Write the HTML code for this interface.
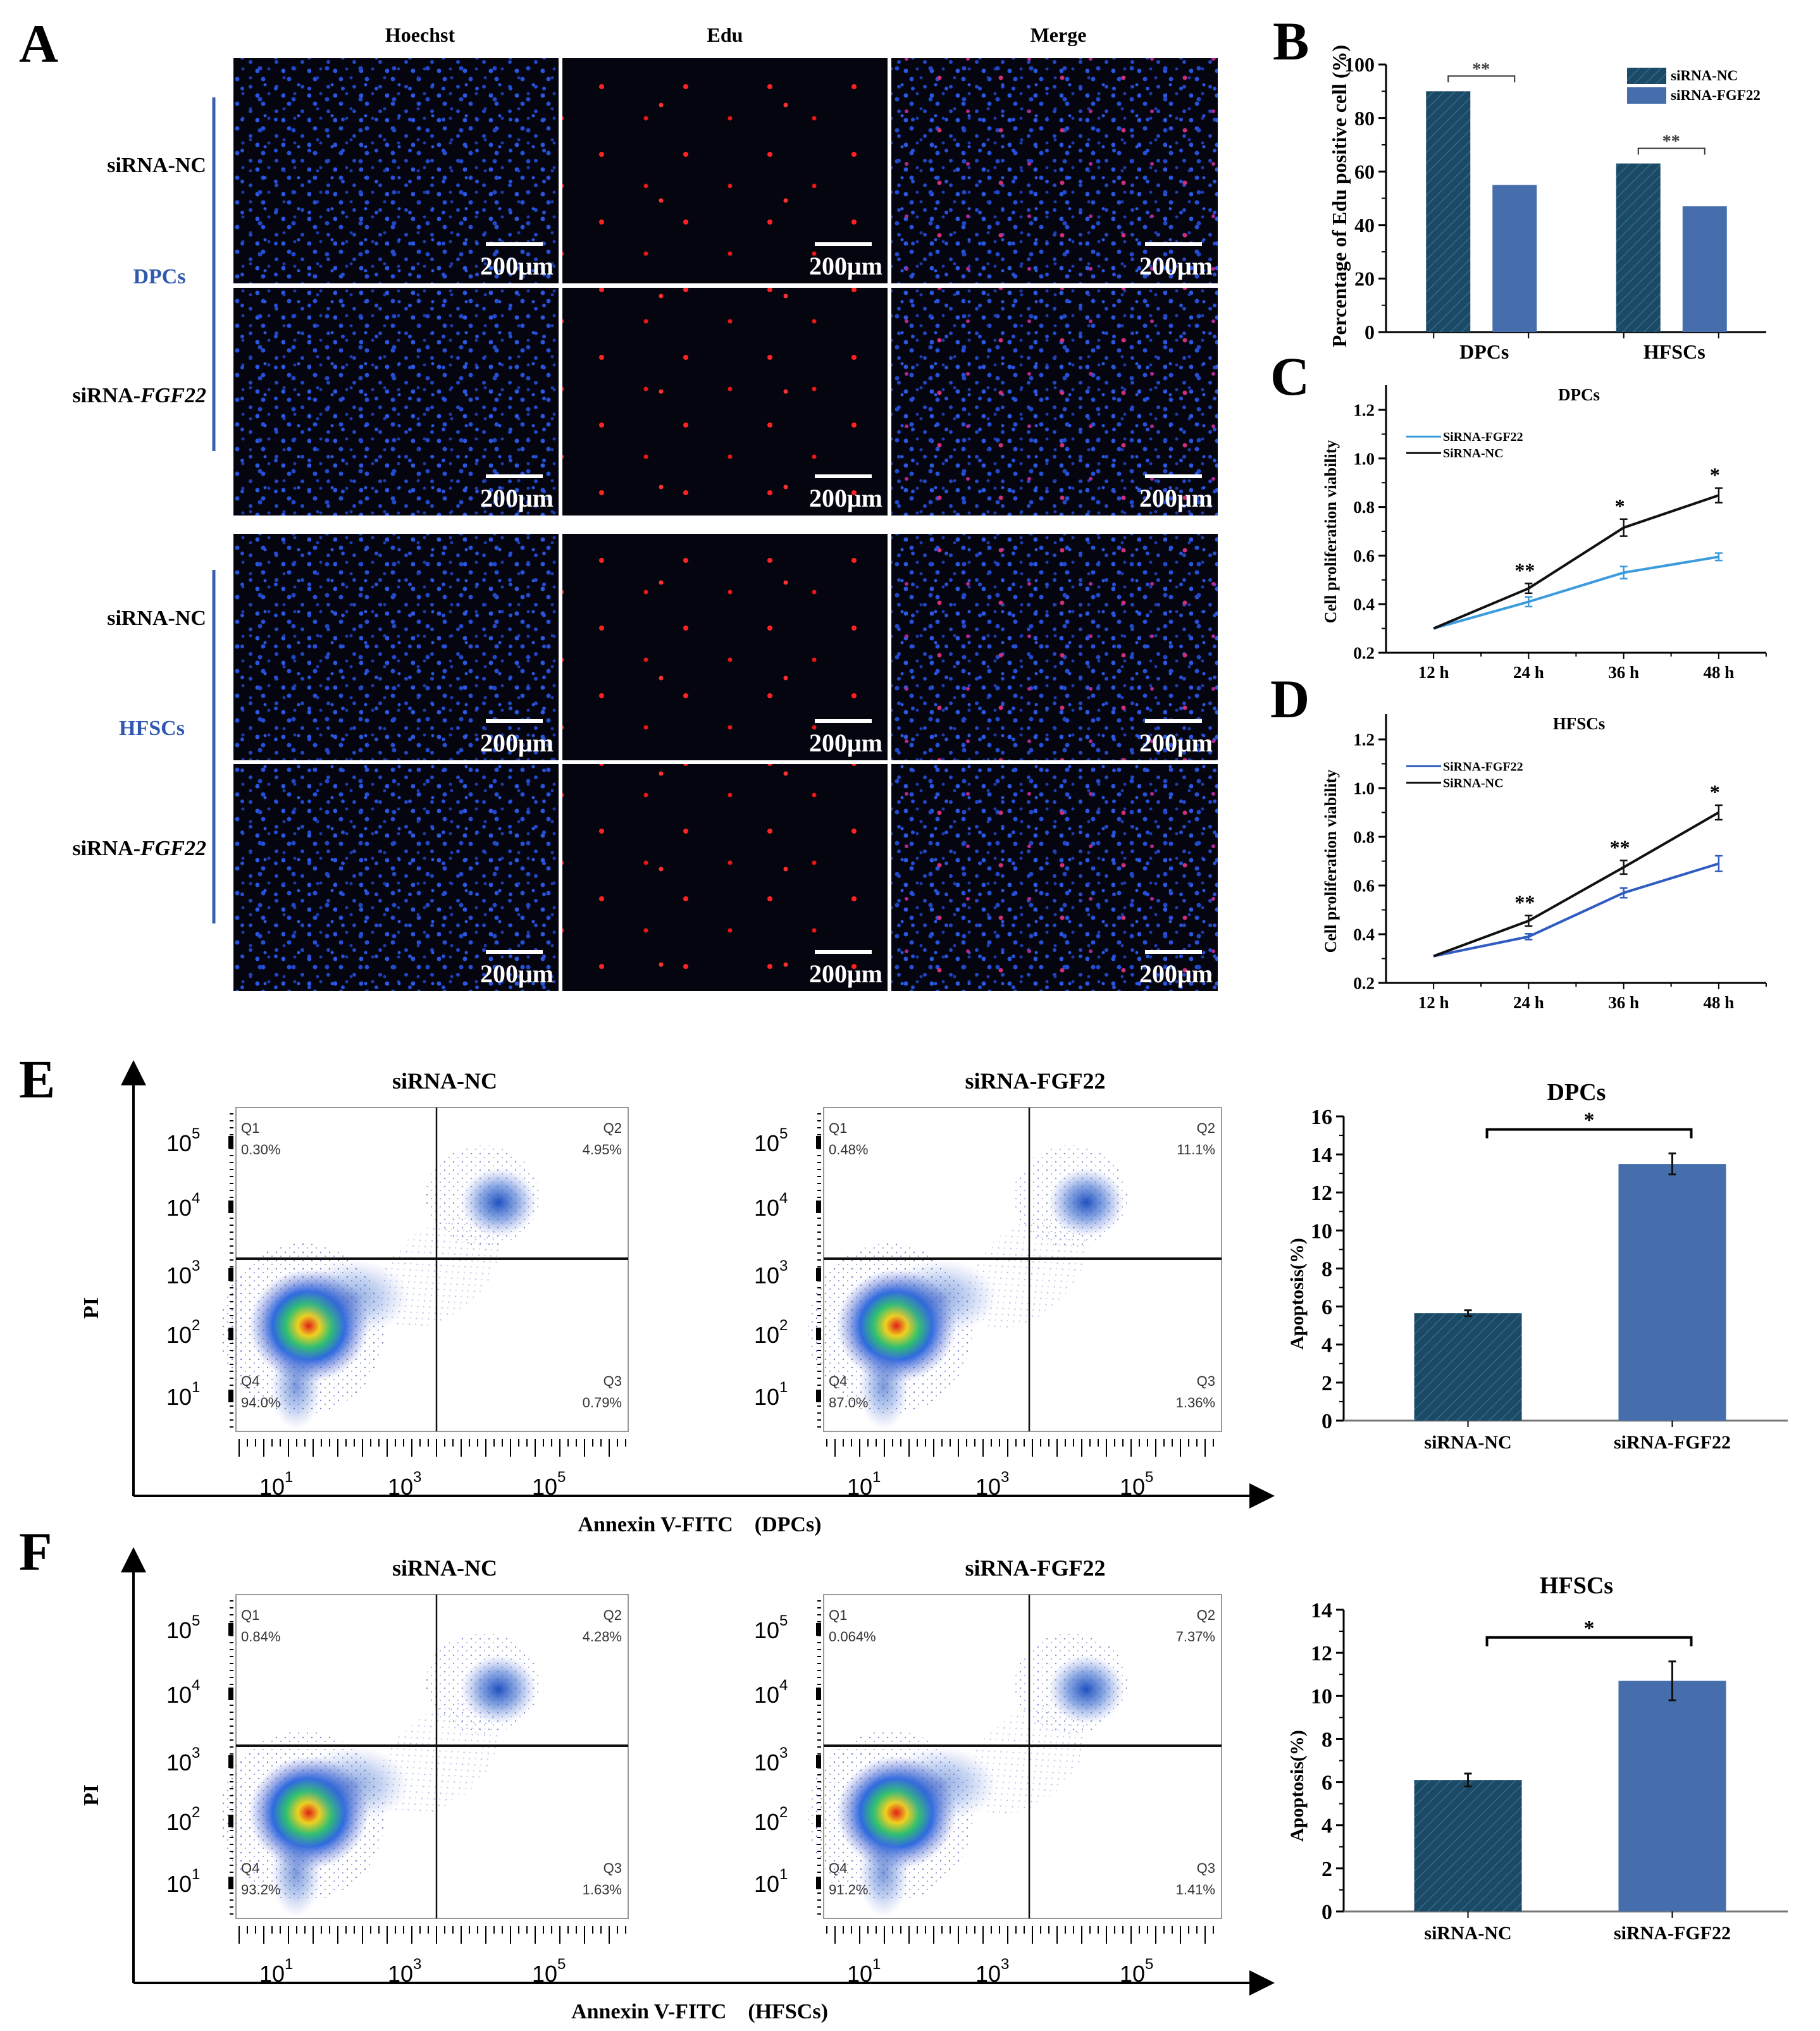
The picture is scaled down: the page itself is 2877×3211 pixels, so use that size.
<!DOCTYPE html>
<html><head><meta charset="utf-8"><style>
html,body{margin:0;padding:0;background:#fff}
svg{display:block}
text{font-family:"Liberation Serif",serif;font-weight:bold}
.sans{font-family:"Liberation Sans",sans-serif;font-weight:normal}
</style></head><body>
<svg id="fig" width="2877" height="3211" viewBox="0 0 2877 3211" xmlns="http://www.w3.org/2000/svg">
<defs>
<pattern id="blueA" width="41" height="39" patternUnits="userSpaceOnUse"><circle cx="6" cy="8" r="3.5" fill="#2550d8"/><circle cx="27" cy="20" r="3" fill="#2048c8"/><circle cx="38" cy="34" r="3.5" fill="#2a58e0"/><circle cx="15" cy="31" r="2.5" fill="#1d3cb0"/></pattern>
<pattern id="blueB" width="53" height="49" patternUnits="userSpaceOnUse"><circle cx="12" cy="42" r="3" fill="#2550d8"/><circle cx="40" cy="10" r="3.5" fill="#2048c8"/><circle cx="48" cy="36" r="2.5" fill="#2a58e0"/><circle cx="25" cy="25" r="2.5" fill="#1d3cb0"/></pattern>
<pattern id="redA" width="133" height="107" patternUnits="userSpaceOnUse"><circle cx="20" cy="30" r="4" fill="#ff2222"/><circle cx="90" cy="80" r="3.5" fill="#e81818"/></pattern>
<pattern id="redB" width="197" height="151" patternUnits="userSpaceOnUse"><circle cx="60" cy="15" r="3.5" fill="#ff3030"/></pattern>
<pattern id="pinkA" width="97" height="83" patternUnits="userSpaceOnUse"><circle cx="30" cy="40" r="3.5" fill="#d0307a"/><circle cx="75" cy="10" r="3" fill="#b02890"/></pattern>
<pattern id="hatch" width="12" height="12" patternUnits="userSpaceOnUse" patternTransform="rotate(45)"><rect width="12" height="12" fill="#1b4a66"/><line x1="0" y1="0" x2="0" y2="12" stroke="#3a6f8f" stroke-width="2.5"/></pattern>
<radialGradient id="dens"><stop offset="0" stop-color="#e0201a"/><stop offset="0.18" stop-color="#f0d020"/><stop offset="0.38" stop-color="#30c070"/><stop offset="0.6" stop-color="#2f6ae0"/><stop offset="0.8" stop-color="#4060d0" stop-opacity="0.45"/><stop offset="1" stop-color="#6070d0" stop-opacity="0"/></radialGradient>
<radialGradient id="densB"><stop offset="0" stop-color="#2050c0"/><stop offset="0.5" stop-color="#4070d0" stop-opacity="0.6"/><stop offset="1" stop-color="#8090e0" stop-opacity="0"/></radialGradient>
<pattern id="dots" width="14" height="13" patternUnits="userSpaceOnUse"><circle cx="3" cy="4" r="1.2" fill="#3850b0"/><circle cx="10" cy="10" r="1" fill="#5060c0"/></pattern>
<marker id="arr" markerWidth="10" markerHeight="10" refX="5" refY="5" orient="auto"><path d="M0,0 L10,5 L0,10 z" fill="#000"/></marker>
</defs>

<!-- Panel A -->
<text x="30" y="98" font-size="86">A</text>
<text x="664" y="66" font-size="32" text-anchor="middle">Hoechst</text>
<text x="1146" y="66" font-size="32" text-anchor="middle">Edu</text>
<text x="1673" y="66" font-size="32" text-anchor="middle">Merge</text>
<g id="micro"></g>
<line x1="338" y1="154" x2="338" y2="713" stroke="#3a5fb0" stroke-width="5"/>
<line x1="338" y1="901" x2="338" y2="1460" stroke="#3a5fb0" stroke-width="5"/>
<text x="326" y="272" font-size="34" text-anchor="end">siRNA-NC</text>
<text x="252" y="448" font-size="34" text-anchor="middle" fill="#2f58b0">DPCs</text>
<text x="326" y="636" font-size="34" text-anchor="end">siRNA-<tspan font-style="italic">FGF22</tspan></text>
<text x="326" y="988" font-size="34" text-anchor="end">siRNA-NC</text>
<text x="240" y="1162" font-size="34" text-anchor="middle" fill="#2f58b0">HFSCs</text>
<text x="326" y="1352" font-size="34" text-anchor="end">siRNA-<tspan font-style="italic">FGF22</tspan></text>

<text x="2012" y="94" font-size="86">B</text>
<text x="2008" y="624" font-size="86">C</text>
<text x="2008" y="1134" font-size="86">D</text>
<text x="30" y="1735" font-size="86">E</text>
<text x="30" y="2482" font-size="86">F</text>

<g id="chartB"></g>
<g id="chartC"></g>
<g id="chartD"></g>
<g id="flowE"></g>
<g id="flowF"></g>
<g id="chartE"></g>
<g id="chartF"></g>
</svg>
<script>
// ---- data ----
const bGroups = ["DPCs", "HFSCs"];
const bSeries = ["siRNA-NC", "siRNA-FGF22"];
const bNC = [90, 63];
const bFGF = [55, 47];
const bTicks = [0, 20, 40, 60, 80, 100];

const timeLabels = ["12 h", "24 h", "36 h", "48 h"];
const lineTicks = [0.2, 0.4, 0.6, 0.8, 1.0, 1.2];
const cFGF = [0.30, 0.41, 0.53, 0.595];
const cFGFerr = [0, 0.02, 0.025, 0.015];
const cNC = [0.30, 0.465, 0.715, 0.848];
const cNCerr = [0, 0.02, 0.035, 0.03];
const cStars = ["", "**", "*", "*"];
const dFGF = [0.31, 0.39, 0.57, 0.69];
const dFGFerr = [0, 0.012, 0.02, 0.032];
const dNC = [0.31, 0.455, 0.675, 0.90];
const dNCerr = [0, 0.022, 0.028, 0.03];
const dStars = ["", "**", "**", "*"];

const apoCats = ["siRNA-NC", "siRNA-FGF22"];
const eVals = [5.65, 13.5];
const eErr = [0.15, 0.55];
const eTicks = [0, 2, 4, 6, 8, 10, 12, 14, 16];
const fVals = [6.1, 10.7];
const fErr = [0.3, 0.9];
const fTicks = [0, 2, 4, 6, 8, 10, 12, 14];

const flowE = [["0.30%", "4.95%", "0.79%", "94.0%"], ["0.48%", "11.1%", "1.36%", "87.0%"]];
const flowF = [["0.84%", "4.28%", "1.63%", "93.2%"], ["0.064%", "7.37%", "1.41%", "91.2%"]];

const NS = "http://www.w3.org/2000/svg";
function mk(parent, tag, attrs, txt) {
  const e = document.createElementNS(NS, tag);
  for (const k in attrs) e.setAttribute(k, attrs[k]);
  if (txt !== undefined) e.textContent = txt;
  parent.appendChild(e);
  return e;
}

// ---- micrographs ----
(function(){
  const g = document.getElementById("micro");
  const cols = [[369, 514], [889, 514], [1409, 516]];
  const rows = [[92, 356], [455, 360], [844, 358], [1208, 359]];
  rows.forEach((r, ri) => cols.forEach((c, ci) => {
    const rect = mk(g, "rect", {x: c[0], y: r[0], width: c[1], height: r[1], fill: "#050510"});
    
    
    const fills = ci === 0 ? ["url(#blueA)", "url(#blueB)"] : ci === 1 ? ["url(#redA)", "url(#redB)"] : ["url(#blueA)", "url(#blueB)", "url(#pinkA)"];
    fills.forEach(f => mk(g, "rect", {x: c[0], y: r[0], width: c[1], height: r[1], fill: f}));
    const bx = c[0] + c[1] - 110, by = r[0] + r[1] - 62;
    const bar = mk(g, "line", {x1: bx - 5, y1: by, x2: bx + 85, y2: by, stroke: "#fff", "stroke-width": 6});
    
    
    const t = mk(g, "text", {x: c[0] + c[1] - 8, y: r[0] + r[1] - 14, "font-size": 40, fill: "#fff", "text-anchor": "end"}, "200μm");
    
    
  }));
})();

function yAxis(g, x, yTop, yBot, ticks, ys, fs, fmt) {
  mk(g, "line", {x1: x, y1: yTop, x2: x, y2: yBot, stroke: "#000", "stroke-width": 3});
  ticks.forEach((v, i) => {
    const y = ys(v);
    mk(g, "line", {x1: x - 12, y1: y, x2: x, y2: y, stroke: "#000", "stroke-width": 3});
    if (i < ticks.length - 1) { const ym = (y + ys(ticks[i + 1])) / 2; mk(g, "line", {x1: x - 7, y1: ym, x2: x, y2: ym, stroke: "#000", "stroke-width": 2}); }
    const t = mk(g, "text", {x: x - 18, y: y + fs * 0.35, "font-size": fs, "text-anchor": "end"}, fmt(v));
    
    
  });
}

// ---- Chart B ----
(function(){
  const g = document.getElementById("chartB");
  const x0 = 2191, x1 = 2792, yb = 525, yt = 102;
  const ys = v => yb - (v / 100) * (yb - yt);
  yAxis(g, x0, yt, yb, bTicks, ys, 32, v => String(v));
  mk(g, "line", {x1: x0, y1: yb, x2: x1, y2: yb, stroke: "#000", "stroke-width": 3});
  const t = mk(g, "text", {transform: "translate(2128,310) rotate(-90)", "font-size": 32, "text-anchor": "middle", "font-weight": "normal"}, "Percentage of Edu positive cell (%)");
  
  
  bGroups.forEach((gr, i) => {
    const cx = x0 + (x1 - x0) * (0.25 + 0.5 * i);
    mk(g, "line", {x1: cx - 75, y1: yb, x2: cx - 75, y2: yb + 10, stroke: "#000", "stroke-width": 2});
    mk(g, "line", {x1: cx + 75, y1: yb, x2: cx + 75, y2: yb + 10, stroke: "#000", "stroke-width": 2});
    const r1 = mk(g, "rect", {x: cx - 87, y: ys(bNC[i]), width: 70, height: yb - ys(bNC[i]), fill: "url(#hatch)"});
    
    
    const r2 = mk(g, "rect", {x: cx + 18, y: ys(bFGF[i]), width: 70, height: yb - ys(bFGF[i]), fill: "#466ead"});
    
    
    const by = ys(Math.max(bNC[i], bFGF[i])) - 24;
    mk(g, "path", {d: `M${cx - 52},${by + 10} V${by} H${cx + 53} V${by + 10}`, fill: "none", stroke: "#333", "stroke-width": 2});
    mk(g, "text", {x: cx, y: by - 2, "font-size": 28, "text-anchor": "middle", fill: "#444"}, "**");
    const l = mk(g, "text", {x: cx + 5, y: yb + 42, "font-size": 32, "text-anchor": "middle"}, gr);
    
    
  });
  const leg = [["url(#hatch)", 107], ["#466ead", 138]];
  bSeries.forEach((s, i) => {
    const r = mk(g, "rect", {x: 2572, y: leg[i][1], width: 62, height: 26, fill: leg[i][0]});
    
    
    const t2 = mk(g, "text", {x: 2641, y: leg[i][1] + 20, "font-size": 23}, s);
    
    
  });
})();

// ---- Line charts ----
function lineChart(id, title, yb, yt, axTop, fgf, fgfErr, nc, ncErr, stars, fgfColor) {
  const g = document.getElementById(id);
  const x0 = 2191, x1 = 2792;
  const ys = v => yb - (v - 0.2) / 1.0 * (yb - yt);
  const xs = i => x0 + (i + 0.5) * (x1 - x0) / 4;
  yAxis(g, x0, axTop, yb, lineTicks, ys, 27, v => v.toFixed(1));
  mk(g, "line", {x1: x0, y1: yb, x2: x1, y2: yb, stroke: "#000", "stroke-width": 3});
  timeLabels.forEach((lab, i) => {
    mk(g, "line", {x1: xs(i), y1: yb, x2: xs(i), y2: yb + 10, stroke: "#000", "stroke-width": 2});
    mk(g, "line", {x1: xs(i) + 75, y1: yb, x2: xs(i) + 75, y2: yb + 6, stroke: "#000", "stroke-width": 2});
    const t = mk(g, "text", {x: xs(i), y: yb + 40, "font-size": 27, "text-anchor": "middle"}, lab);
    
    
  });
  const tt = mk(g, "text", {x: 2496, y: axTop + 24, "font-size": 27, "text-anchor": "middle"}, title);
  
  
  const yt2 = mk(g, "text", {transform: `translate(2112,${(axTop + yb) / 2 + 20}) rotate(-90)`, "font-size": 26, "text-anchor": "middle"}, "Cell proliferation viability");
  
  
  [[fgf, fgfErr, fgfColor, 'line-sirna-fgf22'], [nc, ncErr, "#111", 'line-sirna-nc']].forEach(s => {
    const p = mk(g, "polyline", {points: s[0].map((v, i) => xs(i) + "," + ys(v)).join(" "), fill: "none", stroke: s[2], "stroke-width": 4});
    
    
    s[0].forEach((v, i) => {
      if (!s[1][i]) return;
      const a = ys(v + s[1][i]), b = ys(v - s[1][i]);
      mk(g, "path", {d: `M${xs(i)},${a} V${b} M${xs(i) - 6},${a} H${xs(i) + 6} M${xs(i) - 6},${b} H${xs(i) + 6}`, stroke: s[2], "stroke-width": 2.5, fill: "none"});
    });
  });
  stars.forEach((st, i) => {
    if (!st) return;
    const t = mk(g, "text", {x: xs(i) - 6, y: ys(nc[i] + ncErr[i]) - 10, "font-size": 32, "text-anchor": "middle"}, st);
    
    
  });
  [["SiRNA-FGF22", fgfColor, 0], ["SiRNA-NC", "#111", 26]].forEach(l => {
    const ly = ys(1.09) + l[2];
    mk(g, "line", {x1: 2223, y1: ly, x2: 2278, y2: ly, stroke: l[1], "stroke-width": 3});
    const t = mk(g, "text", {x: 2281, y: ly + 7, "font-size": 20}, l[0]);
    
    
  });
}
lineChart("chartC", "DPCs", 1032, 648, 609, cFGF, cFGFerr, cNC, cNCerr, cStars, "#3b9bdc");
lineChart("chartD", "HFSCs", 1554, 1169, 1129, dFGF, dFGFerr, dNC, dNCerr, dStars, "#2f5cc0");

// ---- Flow plots ----
function flow(id, top, vals, label) {
  const g = document.getElementById(id);
  const H = 512, hy = top + 239;
  const bottom = top + 614;
  mk(g, "line", {x1: 211, y1: bottom, x2: 211, y2: top - 55, stroke: "#000", "stroke-width": 4, "marker-end": "url(#arr)"});
  mk(g, "line", {x1: 211, y1: bottom, x2: 1995, y2: bottom, stroke: "#000", "stroke-width": 4, "marker-end": "url(#arr)"});
  const pi = mk(g, "text", {transform: `translate(155,${top + 317}) rotate(-90)`, "font-size": 34, "text-anchor": "middle"}, "PI");
  
  
  const ax = mk(g, "text", {x: 1106, y: bottom + 56, "font-size": 34, "text-anchor": "middle"}, label);
  
  
  [[373, 993, 690, "siRNA-NC"], [1302, 1931, 1627, "siRNA-FGF22"]].forEach((p, k) => {
    const v = vals[k];
    const tt = mk(g, "text", {x: (p[0] + p[1]) / 2 + 20, y: top - 30, "font-size": 36, "text-anchor": "middle"}, p[3]);
    
    
    const box = mk(g, "rect", {x: p[0], y: top, width: p[1] - p[0], height: H, fill: "#fff", stroke: "#999", "stroke-width": 2});
    
    
    mk(g, "ellipse", {cx: p[0] + 105, cy: top + 350, rx: 130, ry: 135, fill: "url(#dots)", opacity: 0.7});
    mk(g, "ellipse", {cx: p[0] + 115, cy: top + 345, rx: 95, ry: 90, fill: "url(#dens)"});
    mk(g, "ellipse", {cx: p[0] + 185, cy: top + 300, rx: 90, ry: 60, fill: "url(#densB)", opacity: 0.5});
    mk(g, "ellipse", {cx: p[0] + 95, cy: top + 440, rx: 40, ry: 70, fill: "url(#densB)", opacity: 0.6});
    mk(g, "ellipse", {cx: p[0] + 390, cy: top + 140, rx: 90, ry: 80, fill: "url(#dots)", opacity: 0.6});
    mk(g, "ellipse", {cx: p[0] + 415, cy: top + 150, rx: 60, ry: 55, fill: "url(#densB)"});
    mk(g, "ellipse", {cx: p[0] + 320, cy: top + 260, rx: 110, ry: 70, fill: "url(#dots)", opacity: 0.35, transform: `rotate(-40 ${p[0] + 320} ${top + 260})`});
    mk(g, "line", {x1: p[2], y1: top, x2: p[2], y2: top + H, stroke: "#111", "stroke-width": 2.5});
    mk(g, "line", {x1: p[0], y1: hy, x2: p[1], y2: hy, stroke: "#111", "stroke-width": 4});
    const qs = [["Q1", v[0], p[0] + 8, top + 40, "start"], ["Q2", v[1], p[1] - 10, top + 40, "end"], ["Q3", v[2], p[1] - 10, top + 440, "end"], ["Q4", v[3], p[0] + 8, top + 440, "start"]];
    qs.forEach(q => {
      mk(g, "text", {x: q[2], y: q[3], "font-size": 22, "text-anchor": q[4], class: "sans", fill: "#333"}, q[0]);
      const t = mk(g, "text", {x: q[2], y: q[3] + 34, "font-size": 22, "text-anchor": q[4], class: "sans", fill: "#333"}, q[1]);
      
      
    });
    [[5, 55], [4, 157], [3, 264], [2, 358], [1, 456]].forEach(tk => {
      const y = top + tk[1];
      const t = mk(g, "text", {x: p[0] - 110, y: y + 14, "font-size": 36, class: "sans"}, "10");
      mk(t, "tspan", {dy: -20, "font-size": 24}, String(tk[0]));
      mk(g, "rect", {x: p[0] - 12, y: y - 10, width: 8, height: 20, fill: "#000"});
    });
    for (let y = top + 10; y < top + H; y += 11) mk(g, "line", {x1: p[0] - 10, y1: y, x2: p[0] - 4, y2: y, stroke: "#000", "stroke-width": 2});
    for (let x = p[0] + 5; x < p[1]; x += 13) mk(g, "line", {x1: x, y1: top + H + 12, x2: x, y2: top + H + (x % 3 === 0 ? 40 : 24), stroke: "#000", "stroke-width": 2});
    [[1, 37], [3, 240], [5, 468]].forEach(tk => {
      const t = mk(g, "text", {x: p[0] + tk[1], y: top + H + 100, "font-size": 36, class: "sans"}, "10");
      mk(t, "tspan", {dy: -20, "font-size": 24}, String(tk[0]));
    });
  });
}
flow("flowE", 1751, flowE, "Annexin V-FITC\u3000(DPCs)");
flow("flowF", 2521, flowF, "Annexin V-FITC\u3000(HFSCs)");

// ---- Apoptosis bars ----
function apo(id, title, vals, errs, ticks, yb, yt, tmax) {
  const g = document.getElementById(id);
  const x0 = 2124, x1 = 2826;
  const ys = v => yb - v / tmax * (yb - yt);
  yAxis(g, x0, yt, yb, ticks, ys, 34, v => String(v));
  mk(g, "line", {x1: x0, y1: yb, x2: x1, y2: yb, stroke: "#777", "stroke-width": 3});
  const tt = mk(g, "text", {x: 2492, y: yt - 26, "font-size": 38, "text-anchor": "middle"}, title);
  
  
  const ya = mk(g, "text", {transform: `translate(2060,${(yt + yb) / 2 + 40}) rotate(-90)`, "font-size": 30, "text-anchor": "middle"}, "Apoptosis(%)");
  
  
  const cxs = [];
  apoCats.forEach((c, i) => {
    const cx = x0 + (x1 - x0) * (0.28 + 0.46 * i);
    cxs.push(cx);
    const r = mk(g, "rect", {x: cx - 85, y: ys(vals[i]), width: 170, height: yb - ys(vals[i]), fill: i === 0 ? "url(#hatch)" : "#466ead"});
    
    
    const a = ys(vals[i] + errs[i]), b = ys(vals[i] - errs[i]);
    mk(g, "path", {d: `M${cx},${a} V${b} M${cx - 6},${a} H${cx + 6} M${cx - 6},${b} H${cx + 6}`, stroke: "#111", "stroke-width": 3, fill: "none"});
    mk(g, "line", {x1: cx, y1: yb, x2: cx, y2: yb + 10, stroke: "#000", "stroke-width": 2});
    const l = mk(g, "text", {x: cx, y: yb + 44, "font-size": 30, "text-anchor": "middle"}, c);
    
    
  });
  const by = ys(Math.max(vals[0] + errs[0], vals[1] + errs[1])) - 38;
  mk(g, "path", {d: `M${cxs[0] + 30},${by + 14} V${by} H${cxs[1] + 30} V${by + 14}`, fill: "none", stroke: "#000", "stroke-width": 4});
  const s = mk(g, "text", {x: (cxs[0] + cxs[1]) / 2 + 30, y: by - 4, "font-size": 34, "text-anchor": "middle"}, "*");
  
  
}
apo("chartE", "DPCs", eVals, eErr, eTicks, 2246, 1765, 16);
apo("chartF", "HFSCs", fVals, fErr, fTicks, 3022, 2545, 14);
</script>
</body></html>
